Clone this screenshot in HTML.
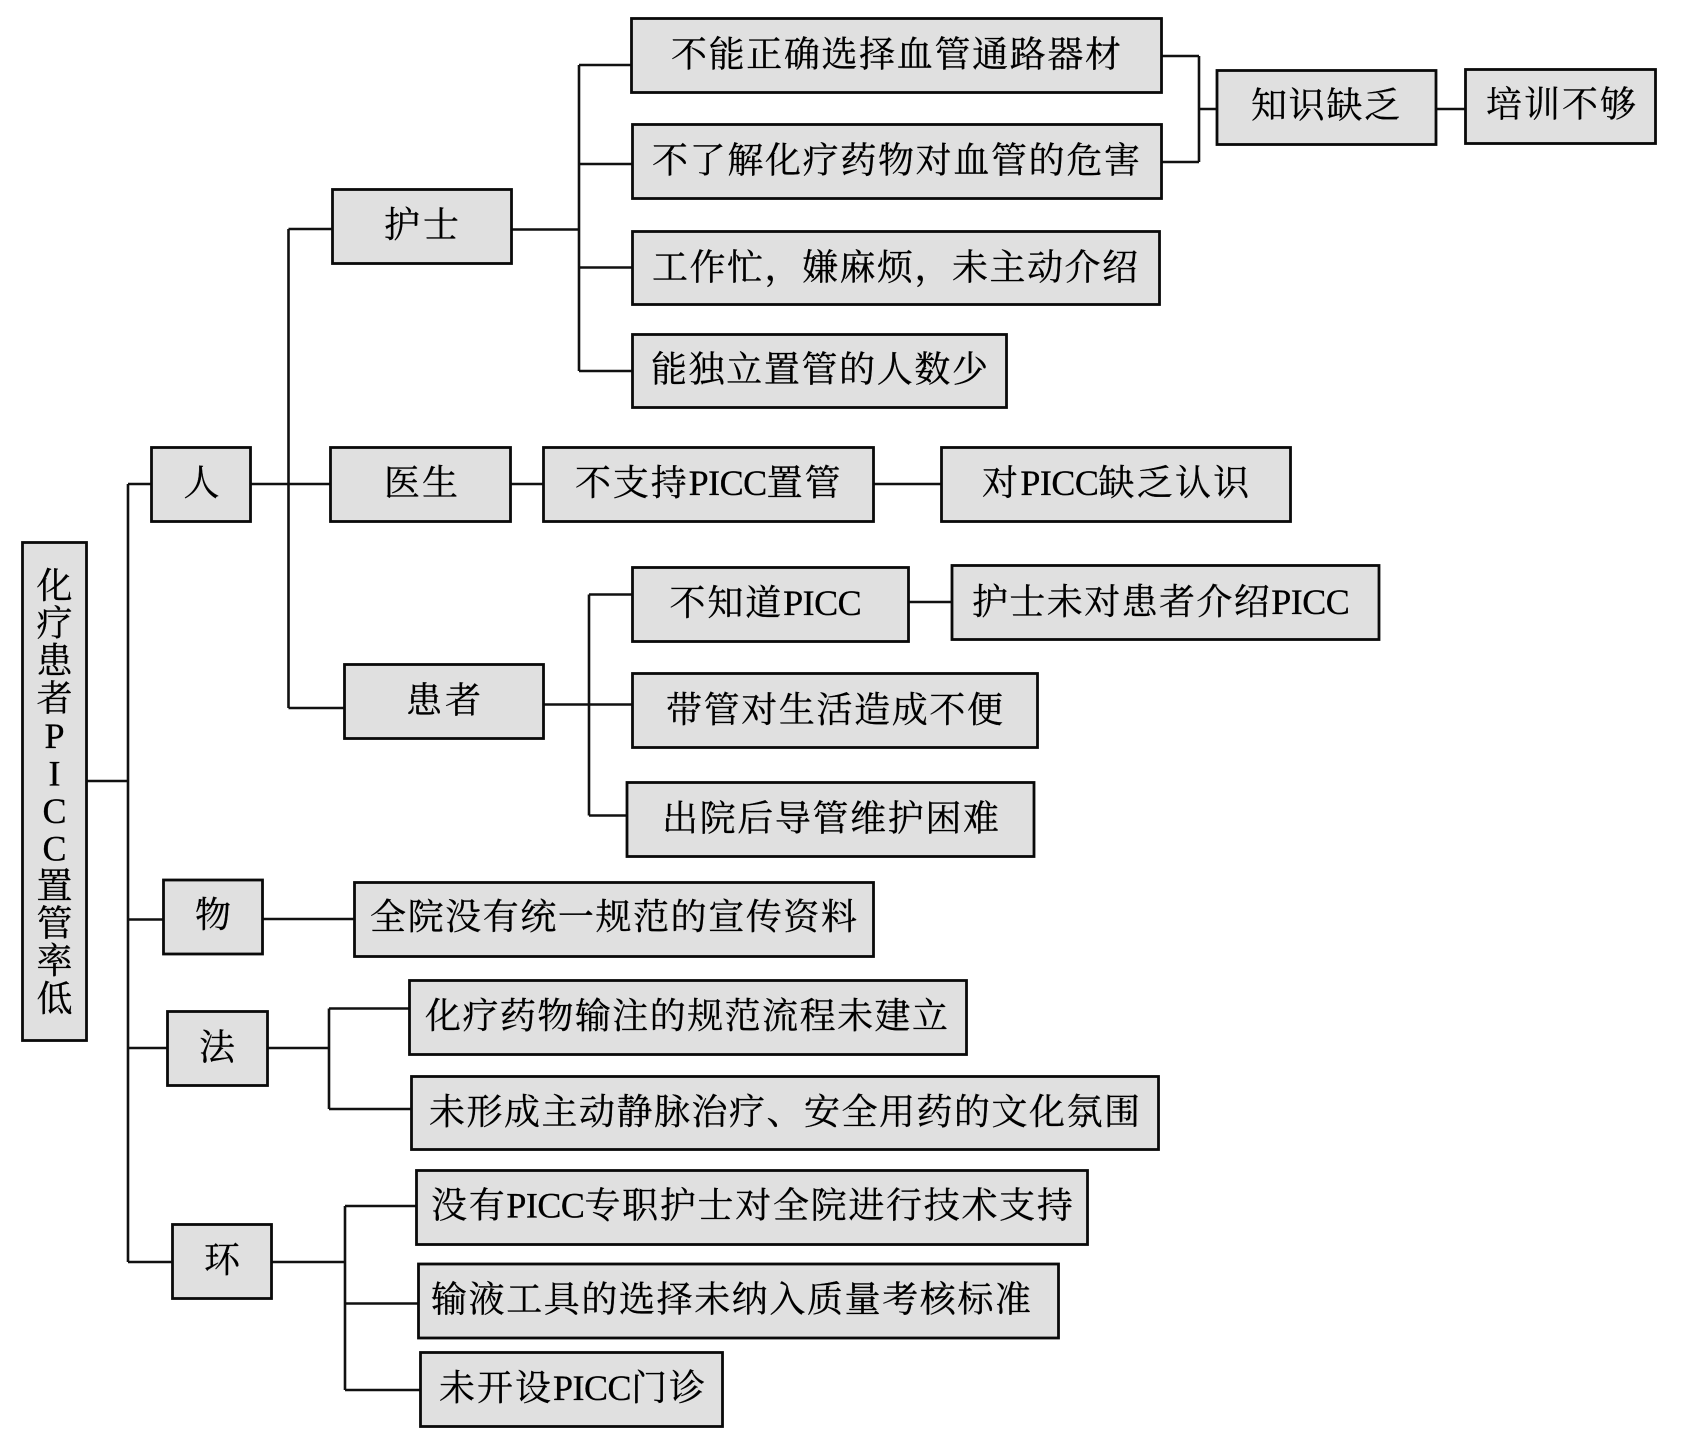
<!DOCTYPE html>
<html lang="zh">
<head>
<meta charset="utf-8">
<title>化疗患者PICC置管率低</title>
<style>
html,body{margin:0;padding:0;background:#fff;}
svg{display:block;}
rect{fill:#e0e0e0;stroke:#0a0a0a;stroke-width:2.8;}
path{fill:none;stroke:#111;stroke-width:2.6;}
text{font-family:"Liberation Serif","Noto Serif CJK SC",serif;font-size:36px;fill:#000;stroke:#000;stroke-width:.3;}
.m{letter-spacing:1.4px;}
.a{letter-spacing:1.85px;}
.b{letter-spacing:2.3px;}
.c{letter-spacing:1.7px;}
.d{letter-spacing:2px;}
.l{letter-spacing:-.5px;}
</style>
</head>
<body>
<svg xmlns="http://www.w3.org/2000/svg" width="1682" height="1444" viewBox="0 0 1682 1444">
<rect x="0" y="0" width="1682" height="1444" style="fill:#fff;stroke:none"/>
<!-- connectors -->
<path d="M87 781H128M128 484V1262M128 484H151M128 919.5H163M128 1048H167M128 1262H172"/>
<path d="M263 919H354"/>
<path d="M268 1048H329M329 1008.5V1109M329 1008.5H409M329 1109H411"/>
<path d="M272 1262H345M345 1206V1390M345 1206H416M345 1303.5H418M345 1390H420"/>
<path d="M251 484H330M288.5 229V708M288.5 229H332M288.5 708H344"/>
<path d="M512 229.5H579M579 65V371M579 65H632M579 164H632M579 267.5H632M579 371H632"/>
<path d="M511 484H543M874 484H941"/>
<path d="M544 704.5H632M589 594.5V815.5M589 594.5H632M589 815.5H627"/>
<path d="M909 602H952"/>
<path d="M1162 56H1199M1162 162H1199M1199 56V162M1199 109H1217M1436 109H1465"/>
<!-- boxes -->
<rect x="22.5" y="542.5" width="64" height="498"/>
<rect x="151.5" y="447.5" width="99" height="74"/>
<rect x="163.5" y="880" width="99" height="74"/>
<rect x="167.5" y="1011.5" width="100" height="74"/>
<rect x="172.5" y="1224.5" width="99" height="74"/>
<rect x="332.5" y="189.5" width="179" height="74"/>
<rect x="330.5" y="447.5" width="180" height="74"/>
<rect x="344.5" y="664.5" width="199" height="74"/>
<rect x="631.5" y="18.5" width="530" height="74"/>
<rect x="632.5" y="124.5" width="529" height="74"/>
<rect x="632.5" y="231.5" width="527" height="73"/>
<rect x="632.5" y="334.5" width="374" height="73"/>
<rect x="543.5" y="447.5" width="330" height="74"/>
<rect x="941.5" y="447.5" width="349" height="74"/>
<rect x="632.5" y="567.5" width="276" height="74"/>
<rect x="952" y="565.5" width="427" height="74"/>
<rect x="632.5" y="673.5" width="405" height="74"/>
<rect x="627" y="782.5" width="407" height="74"/>
<rect x="354.5" y="882.5" width="519" height="74"/>
<rect x="409.5" y="980.5" width="557" height="74"/>
<rect x="411.5" y="1076.5" width="747" height="73"/>
<rect x="416.5" y="1170.5" width="671" height="74"/>
<rect x="418.5" y="1264" width="640" height="74"/>
<rect x="420.5" y="1352.5" width="302" height="74"/>
<rect x="1217" y="70.5" width="219" height="74"/>
<rect x="1465.5" y="69.5" width="190" height="74"/>
<!-- labels -->
<g>
<text x="671" y="66.5" textLength="450">不能正确选择血管通路器材</text>
<text x="652" y="172.5" textLength="488">不了解化疗药物对血管的危害</text>
<text x="652" y="279.5" textLength="486">工作忙，嫌麻烦，未主动介绍</text>
<text x="651" y="381.5" textLength="337">能独立置管的人数少</text>
<text x="384" y="237" textLength="75">护士</text>
<text x="384" y="495" textLength="74">医生</text>
<text x="575" y="495"><tspan class="a">不支持</tspan><tspan class="l">PICC</tspan><tspan class="a">置管</tspan></text>
<text x="982" y="495"><tspan class="b">对</tspan><tspan class="l">PICC</tspan><tspan class="b">缺乏认识</tspan></text>
<text x="669.5" y="615"><tspan class="a">不知道</tspan><tspan class="l">PICC</tspan></text>
<text x="972" y="614"><tspan class="m">护士未对患者介绍</tspan><tspan class="l">PICC</tspan></text>
<text x="406" y="712.5" textLength="75">患者</text>
<text x="666" y="722" textLength="337">带管对生活造成不便</text>
<text x="662" y="830.5" textLength="337">出院后导管维护困难</text>
<text x="370" y="929" textLength="487">全院没有统一规范的宣传资料</text>
<text x="425" y="1028" textLength="523">化疗药物输注的规范流程未建立</text>
<text x="429" y="1124" textLength="711">未形成主动静脉治疗、安全用药的文化氛围</text>
<text x="431" y="1217.5"><tspan class="c">没有</tspan><tspan class="l">PICC</tspan><tspan class="c">专职护士对全院进行技术支持</tspan></text>
<text x="431" y="1311.5" textLength="600">输液工具的选择未纳入质量考核标准</text>
<text x="439" y="1400"><tspan class="d">未开设</tspan><tspan class="l">PICC</tspan><tspan class="d">门诊</tspan></text>
<text x="1251" y="117.5" textLength="149">知识缺乏</text>
<text x="1486" y="116.5" textLength="150">培训不够</text>
</g>
<g text-anchor="middle">
<text x="201.5" y="495">人</text>
<text x="213" y="927">物</text>
<text x="217" y="1059.5">法</text>
<text x="222" y="1272">环</text>
<text x="54.5" y="598">化</text>
<text x="54.5" y="635.5">疗</text>
<text x="54.5" y="673">患</text>
<text x="54.5" y="710.5">者</text>
<text x="54.5" y="748">P</text>
<text x="54.5" y="785.5">I</text>
<text x="54.5" y="823">C</text>
<text x="54.5" y="860.5">C</text>
<text x="54.5" y="898">置</text>
<text x="54.5" y="935.5">管</text>
<text x="54.5" y="973">率</text>
<text x="54.5" y="1011">低</text>
</g>
</svg>
</body>
</html>
